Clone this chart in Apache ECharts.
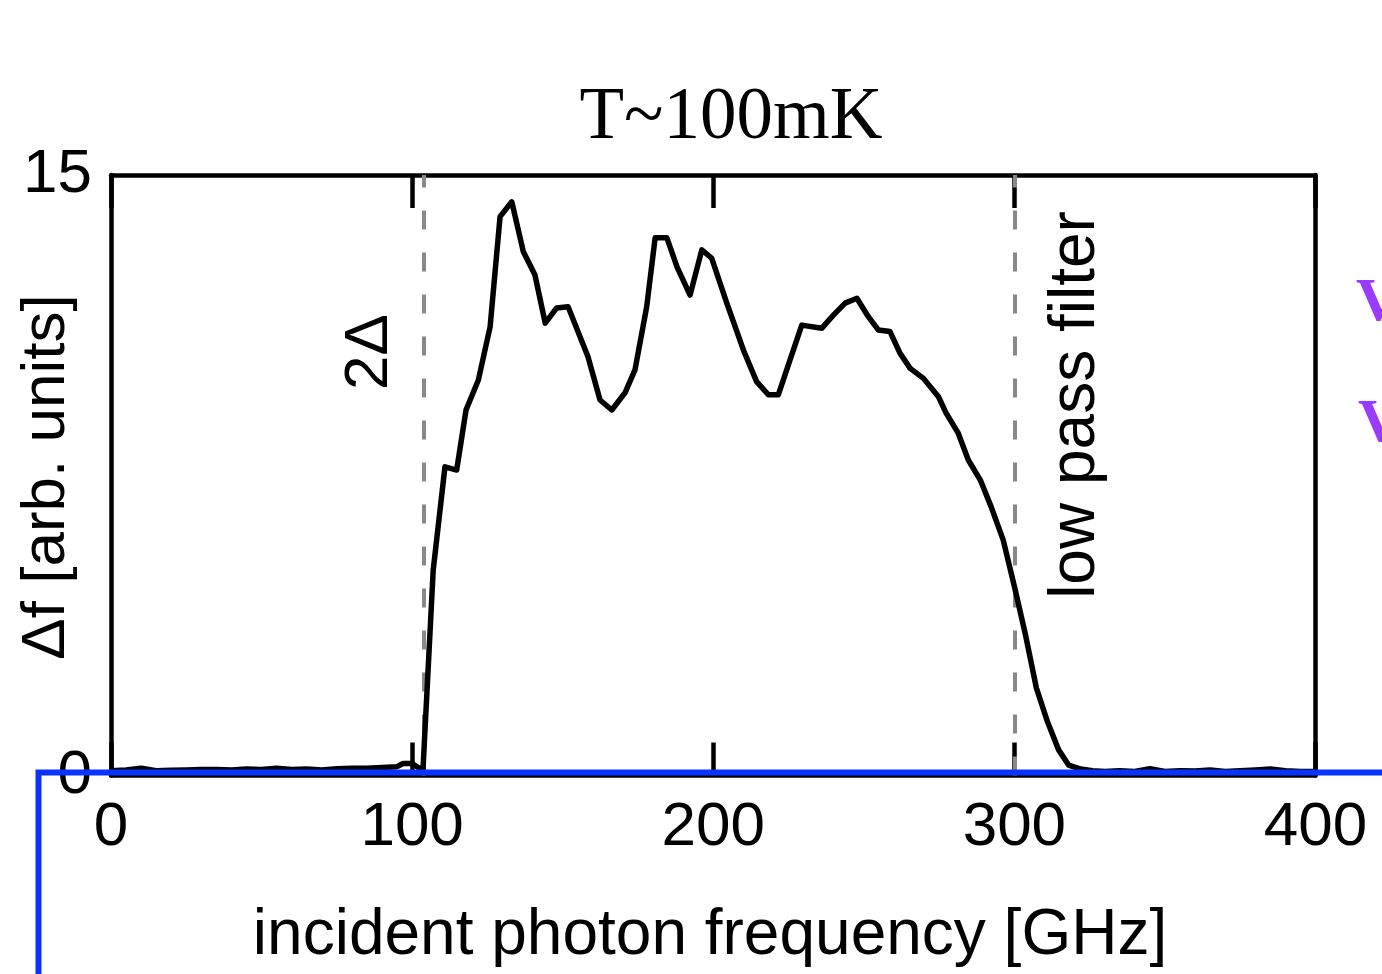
<!DOCTYPE html>
<html>
<head>
<meta charset="utf-8">
<script src="https://cdn.jsdelivr.net/npm/echarts@6/dist/echarts.min.js"></script>
<style>
html,body{margin:0;padding:0;background:#fff;}
#chart{width:1382px;height:974px;}
</style>
</head>
<body>
<div id="chart"></div>
<script>
// Data (GHz, arb. units)
const freq = [0,5,10,15,20,25,30,35,40,45,50,55,60,65,70,75,80,85,90,95,97,100,102,103.6,
  107.0,110.9,114.8,117.9,122.0,125.9,129.2,133.1,136.9,140.8,144.2,148.0,151.8,158.4,162.4,166.3,170.7,174.0,177.9,180.7,184.6,188.0,192.3,196.2,199.5,204.5,210.0,214.4,218.3,221.6,225.5,229.4,236.0,239.9,243.8,247.7,251.5,254.8,258.7,262.0,265.4,269.8,274.8,277.3,281.3,284.7,288.7,292.3,296.3,300.3,303.7,307.3,311.0,314.7,318.0,322.0,
  326,330,335,340,345,350,355,360,365,370,375,380,385,390,395,400];
const deltaF = [0.12,0.14,0.18,0.12,0.13,0.14,0.15,0.15,0.14,0.16,0.15,0.18,0.15,0.16,0.14,0.17,0.18,0.18,0.2,0.22,0.3,0.3,0.2,0.14,
  5.13,7.71,7.63,9.13,9.88,11.21,13.96,14.33,13.09,12.5,11.3,11.68,11.71,10.46,9.38,9.13,9.56,10.13,11.71,13.43,13.43,12.7,12.0,13.13,12.92,11.8,10.63,9.84,9.51,9.51,10.38,11.25,11.17,11.5,11.8,11.92,11.46,11.13,11.09,10.55,10.17,9.92,9.46,9.06,8.56,7.88,7.38,6.71,5.88,4.63,3.51,2.19,1.34,0.64,0.26,0.16,
  0.12,0.1,0.12,0.1,0.17,0.1,0.12,0.11,0.14,0.1,0.12,0.14,0.16,0.12,0.1,0.1];
const xTicks = [0,100,200,300,400];
const yTicks = [0,15];
const markers = [104, 300];
const titleText = 'T~100mK';
const xName = 'incident photon frequency [GHz]';
const yName = 'Δf [arb. units]';

const chart = echarts.init(document.getElementById('chart'), null, {renderer:'canvas'});
const sans = 'Liberation Sans, Arial, sans-serif';
const axisLineStyle = {color:'#000', width:4.5};
const option = {
  backgroundColor:'#fff',
  animation:false,
  grid:{left:111, right:66.5, top:175, bottom:198.5, containLabel:false},
  xAxis:[{
    type:'value', min:0, max:400, interval:100, position:'bottom',
    axisLine:{show:true, onZero:false, lineStyle:axisLineStyle},
    axisTick:{show:true, inside:true, length:33, lineStyle:{color:'#000', width:4.5}},
    axisLabel:{show:true, fontSize:62, color:'#000', fontFamily:sans, margin:21,
      formatter:v => xTicks.includes(v) ? String(v) : ''},
    splitLine:{show:false}
  },{
    type:'value', min:0, max:400, interval:100, position:'top',
    axisLine:{show:true, onZero:false, lineStyle:axisLineStyle},
    axisTick:{show:true, inside:true, length:33, lineStyle:{color:'#000', width:4.5}},
    axisLabel:{show:false}, splitLine:{show:false}
  }],
  yAxis:[{
    type:'value', min:0, max:15, interval:15, position:'left',
    axisLine:{show:true, onZero:false, lineStyle:axisLineStyle},
    axisTick:{show:false},
    axisLabel:{show:true, fontSize:62, color:'#000', fontFamily:sans, margin:19,
      formatter:v => yTicks.includes(v) ? String(v) : ''},
    splitLine:{show:false}
  },{
    type:'value', min:0, max:15, interval:15, position:'right',
    axisLine:{show:true, onZero:false, lineStyle:axisLineStyle},
    axisTick:{show:false}, axisLabel:{show:false}, splitLine:{show:false}
  }],
  series:[{
    type:'line',
    data:freq.map((f,i)=>[f, deltaF[i]]),
    showSymbol:false, symbol:'none',
    lineStyle:{color:'#000', width:5.5, join:'round'},
    z:5,
    markLine:{
      silent:true, symbol:['none','none'],
      label:{show:false},
      lineStyle:{color:'#888', width:4, type:[19,23]},
      data:markers.map(m=>({xAxis:m})),
      z:3
    }
  }],
  graphic:[
    {type:'text', x:731, y:119, style:{text:titleText, font:'73px "Liberation Serif", "Times New Roman", serif', fill:'#000', textAlign:'center', textVerticalAlign:'middle'}},
    {type:'text', x:710, y:936, style:{text:xName, font:'64px ' + sans, fill:'#000', textAlign:'center', textVerticalAlign:'middle'}},
    {type:'text', x:47, y:477, rotation:Math.PI/2, style:{text:yName, font:'62px ' + sans, fill:'#000', textAlign:'center', textVerticalAlign:'middle'}},
    {type:'text', x:370, y:352, rotation:Math.PI/2, style:{text:'2Δ', font:'62px ' + sans, fill:'#000', textAlign:'center', textVerticalAlign:'middle'}},
    {type:'text', x:1076, y:405, rotation:Math.PI/2, style:{text:'low pass filter', font:'64px ' + sans, fill:'#000', textAlign:'center', textVerticalAlign:'middle'}},
    {type:'text', x:1356, y:273, style:{text:'V', font:'bold 62px "Liberation Serif", serif', fill:'#9a3cff', textAlign:'left', textVerticalAlign:'top'}},
    {type:'text', x:1358, y:394, style:{text:'V', font:'bold 62px "Liberation Serif", serif', fill:'#9a3cff', textAlign:'left', textVerticalAlign:'top'}},
    {type:'rect', z:100, shape:{x:38.5, y:772.5, width:1400, height:400}, style:{fill:'none', stroke:'#0a32ff', lineWidth:6}}
  ]
};
chart.setOption(option);
</script>
</body>
</html>
